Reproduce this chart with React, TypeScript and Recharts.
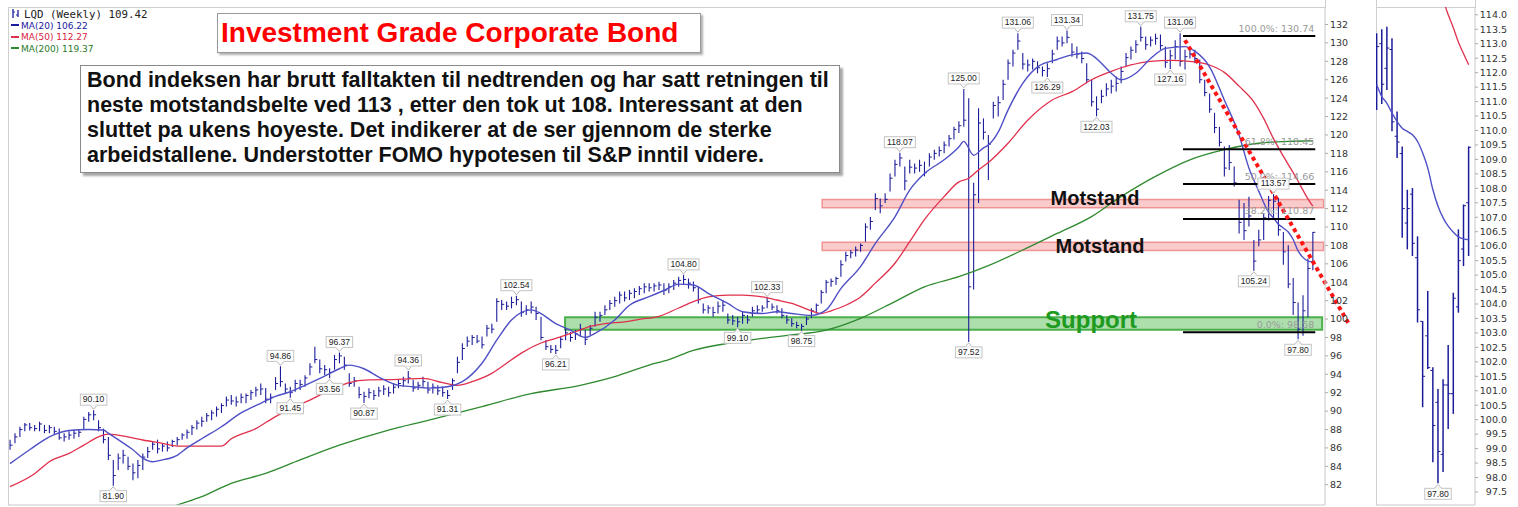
import React from 'react';
import { ComposedChart, Bar, Line, XAxis, YAxis, ReferenceArea, ReferenceLine, ReferenceDot } from 'recharts';

// ---------- main chart: 2-week OHLC bars (index k) ----------
const highs = [
  86.9, 87.6, 88.3, 88.7, 88.7, 88.5, 88.85, 88.5, 88.5, 88.3,
  88.1, 87.6, 87.8, 88.0, 88.0, 89.4, 89.9, 90.1, 89.0, 88.1,
  87.2, 84.7, 85.4, 85.8, 85.05, 84.3, 84.7, 85.4, 86.1, 86.7,
  86.9, 86.5, 86.7, 86.9, 87.2, 87.6, 88.0, 88.5, 89.0, 89.4,
  89.8, 90.1, 90.5, 90.85, 91.6, 91.75, 91.6, 91.9, 91.9, 92.3,
  92.65, 93.0, 92.5, 91.9, 93.7, 94.86, 93.0, 92.65, 93.4, 93.4,
  93.9, 95.2, 97.0, 95.6, 95.0, 94.65, 96.1, 96.37, 95.9, 94.1,
  93.7, 92.65, 92.1, 92.47, 92.3, 92.65, 92.8, 92.65, 93.0, 93.4,
  93.74, 94.36, 93.4, 93.2, 93.74, 93.2, 93.0, 92.8, 92.65, 92.3,
  93.56, 95.9, 97.36, 98.1, 98.27, 98.27, 98.1, 99.35, 99.5, 102.25,
  102.07, 101.9, 102.43, 102.54, 101.9, 101.5, 101.9, 101.35, 100.26, 97.72,
  97.18, 97.18, 98.1, 99.0, 98.6, 98.8, 99.5, 98.8, 99.35, 100.8,
  100.8, 101.5, 102.07, 102.43, 102.98, 102.98, 103.16, 103.34, 103.6, 103.88,
  103.88, 103.88, 104.06, 103.88, 103.9, 104.25, 104.6, 104.8, 104.4, 104.07,
  103.5, 101.7, 101.5, 101.35, 101.9, 102.07, 100.6, 100.44, 100.26, 100.8,
  100.44, 101.35, 101.5, 101.5, 102.33, 101.7, 101.5, 101.17, 100.44, 100.08,
  99.7, 99.5, 100.26, 101.17, 101.7, 103.16, 104.25, 104.4, 104.6, 106.4,
  107.3, 107.5, 107.87, 108.2, 110.4, 111.1, 113.67, 113.1, 113.67, 115.8,
  117.3, 118.07, 116.57, 117.3, 116.9, 117.3, 117.1, 118.0, 118.4, 118.74,
  119.3, 120.0, 120.9, 121.5, 125.0, 124.0, 114.8, 122.9, 121.8, 120.0,
  123.6, 124.2, 126.0, 128.2, 129.25, 131.06, 128.9, 128.2, 128.3, 128.0,
  127.44, 127.8, 129.25, 130.7, 130.7, 131.34, 129.97, 129.6, 129.07, 127.8,
  126.0, 124.2, 124.9, 125.63, 126.0, 126.35, 127.44, 128.9, 129.6, 130.3,
  131.75, 130.7, 130.7, 131.0, 130.9, 129.6, 129.25, 130.3, 131.06, 129.25,
  129.6, 129.25, 128.2, 126.0, 124.5, 122.4, 120.9, 118.74, 118.9, 116.57,
  112.95, 112.6, 113.3, 108.6, 109.7, 111.5, 113.36, 113.57, 113.19, 109.45,
  108.01, 104.45, 101.81, 102.58, 106.58, 109.45,
];
const lows = [
  85.8, 86.5, 87.2, 87.8, 87.9, 87.8, 87.8, 87.6, 87.6, 87.4,
  86.9, 86.7, 86.9, 87.0, 87.2, 88.0, 88.85, 89.0, 87.8, 86.5,
  84.7, 81.9, 83.6, 84.3, 83.6, 82.5, 82.7, 83.6, 84.9, 85.8,
  85.4, 85.6, 85.6, 86.1, 86.3, 86.9, 87.0, 87.4, 88.0, 88.3,
  88.85, 89.0, 89.4, 89.8, 90.5, 90.7, 90.5, 90.85, 90.85, 91.2,
  91.6, 91.75, 90.85, 90.85, 92.3, 92.65, 91.9, 91.45, 92.1, 92.3,
  92.65, 93.9, 95.2, 94.1, 93.9, 93.56, 94.5, 95.2, 94.5, 92.65,
  92.65, 91.4, 90.87, 91.4, 91.2, 91.56, 91.75, 91.56, 91.9, 92.47,
  92.65, 93.0, 92.1, 92.3, 92.65, 91.9, 91.9, 91.75, 91.56, 91.31,
  92.3, 94.1, 95.55, 97.0, 97.18, 97.36, 96.8, 98.1, 98.45, 99.7,
  100.98, 100.98, 101.16, 101.5, 100.26, 100.44, 100.6, 99.9, 97.7, 96.64,
  96.3, 96.21, 96.82, 97.7, 97.54, 97.72, 98.1, 97.18, 98.27, 99.17,
  99.7, 100.44, 100.98, 101.35, 101.7, 101.9, 102.07, 102.25, 102.6, 102.8,
  102.98, 102.98, 103.16, 102.6, 102.8, 103.16, 103.5, 103.7, 103.3, 103.0,
  101.7, 100.6, 100.6, 100.26, 100.6, 100.8, 99.5, 99.35, 99.1, 99.5,
  99.5, 100.26, 100.6, 100.8, 101.17, 100.98, 100.6, 100.08, 99.5, 99.17,
  99.0, 98.75, 99.35, 100.08, 100.6, 101.7, 102.8, 103.5, 103.7, 104.6,
  106.24, 106.6, 106.8, 107.3, 108.4, 109.7, 111.86, 111.5, 112.6, 113.85,
  115.5, 116.57, 114.0, 115.8, 115.8, 116.0, 115.5, 116.57, 117.3, 117.65,
  118.0, 118.74, 119.5, 120.2, 120.9, 97.52, 103.2, 112.6, 119.5, 115.1,
  121.8, 122.0, 123.8, 126.0, 127.44, 129.25, 127.1, 126.9, 127.1, 126.7,
  126.35, 126.29, 127.8, 129.25, 129.6, 129.97, 128.5, 128.3, 127.8, 125.63,
  123.1, 122.03, 123.45, 124.2, 124.5, 124.72, 125.63, 127.44, 128.2, 128.9,
  130.15, 129.25, 129.6, 129.8, 129.25, 127.3, 127.16, 128.2, 127.44, 127.1,
  128.3, 127.8, 125.63, 124.2, 122.4, 120.2, 118.74, 115.5, 116.2, 114.4,
  109.3, 108.6, 110.05, 105.24, 107.9, 108.6, 110.71, 110.92, 109.05, 105.89,
  103.36, 100.43, 97.8, 98.19, 100.2, 105.31,
];
const closes = [
  86.3, 87.2, 88.0, 88.5, 88.2, 88.1, 88.6, 87.9, 88.2, 87.8,
  87.1, 87.2, 87.4, 87.6, 87.7, 89.1, 89.6, 89.6, 88.2, 86.9,
  85.2, 83.0, 84.9, 85.2, 84.0, 83.3, 84.1, 85.0, 85.6, 86.4,
  85.9, 86.2, 86.0, 86.7, 86.9, 87.4, 87.7, 88.2, 88.7, 88.9,
  89.5, 89.8, 90.2, 90.6, 91.2, 91.1, 91.0, 91.5, 91.7, 92.0,
  92.3, 92.4, 91.3, 91.5, 93.0, 93.2, 92.4, 92.0, 93.0, 92.9,
  93.6, 94.8, 95.6, 94.6, 94.5, 94.2, 95.6, 96.0, 95.0, 93.0,
  93.3, 91.8, 91.6, 92.0, 91.7, 92.2, 92.4, 92.0, 92.6, 93.0,
  93.3, 93.6, 92.5, 92.8, 93.2, 92.3, 92.6, 92.2, 92.0, 91.7,
  93.3, 95.3, 96.8, 97.6, 98.0, 97.6, 97.2, 99.0, 98.9, 101.9,
  101.6, 101.4, 101.8, 102.1, 100.7, 101.0, 101.3, 100.6, 98.0, 97.0,
  96.7, 96.6, 97.8, 98.5, 98.0, 98.4, 98.9, 97.8, 99.0, 100.2,
  100.4, 101.0, 101.7, 102.0, 102.6, 102.3, 102.8, 103.0, 103.3, 103.5,
  103.4, 103.6, 103.7, 103.1, 103.5, 103.9, 104.2, 104.3, 103.9, 103.4,
  102.1, 101.0, 101.2, 100.7, 101.4, 101.5, 99.9, 99.8, 99.7, 100.4,
  99.9, 100.9, 101.0, 101.2, 101.9, 101.3, 100.9, 100.4, 99.9, 99.5,
  99.3, 99.2, 100.0, 100.9, 101.5, 102.9, 104.0, 104.1, 104.4, 105.9,
  106.9, 107.2, 107.5, 108.0, 110.0, 110.6, 113.1, 112.3, 113.0, 115.3,
  116.8, 117.5, 115.0, 116.5, 116.4, 116.7, 115.9, 117.6, 118.0, 118.3,
  118.9, 119.6, 120.6, 121.0, 121.6, 103.5, 113.5, 121.3, 120.3, 119.0,
  123.2, 123.5, 125.5, 127.8, 128.9, 130.2, 127.7, 127.6, 128.0, 127.3,
  127.0, 127.2, 128.8, 130.2, 130.0, 130.6, 129.0, 128.8, 128.3, 126.0,
  123.6, 122.8, 124.2, 125.0, 125.3, 125.6, 126.9, 128.4, 129.2, 129.8,
  130.6, 129.8, 130.3, 130.5, 129.7, 127.9, 128.6, 129.6, 128.0, 128.5,
  128.8, 128.3, 126.0, 124.6, 122.8, 120.8, 119.2, 116.4, 117.0, 114.8,
  110.5, 109.6, 111.2, 106.3, 108.6, 111.0, 112.9, 112.8, 109.7, 107.3,
  103.8, 101.8, 98.9, 100.9, 105.5, 109.42,
];

// moving averages: [bar index, value]
const ma20Main = [
  [0, 84.3], [4, 85.8], [8, 87.2], [12, 87.9], [16, 88.0], [19, 87.95], [20, 87.6], [22, 86.9], [25, 85.8],
  [27, 84.9], [29, 84.5], [31, 84.7], [34, 85.2], [36, 86.0], [39, 87.0], [43, 88.3], [47, 89.8], [51, 90.85],
  [54, 91.6], [57, 92.1], [60, 92.8], [64, 93.8], [67, 94.6], [69, 95.0], [72, 94.6], [75, 93.7], [79, 92.8],
  [82, 92.65], [85, 92.5], [89, 92.65], [92, 93.2], [96, 95.2], [99, 97.7], [102, 99.9], [106, 101.0],
  [108, 100.6], [111, 99.5], [114, 98.8], [117, 98.0], [119, 98.45], [123, 99.9], [126, 101.5], [130, 102.43],
  [133, 103.1], [136, 103.8], [139, 103.7], [142, 102.8], [146, 101.7], [149, 100.8], [153, 100.6], [156, 100.8],
  [159, 100.6], [163, 100.4], [166, 101.0], [169, 103.3], [173, 105.7], [176, 108.2], [180, 111.1], [183, 114.0],
  [186, 115.8], [190, 117.3], [193, 118.7], [194, 119.3], [196, 117.8], [198, 118.6], [199, 118.9], [201, 120.3],
  [203, 122.7], [206, 125.6], [209, 127.4], [213, 128.2], [216, 128.7], [219, 128.9], [222, 127.8], [224, 126.7],
  [226, 126.0], [229, 126.7], [232, 128.3], [235, 129.4], [239, 129.6], [241, 129.1], [244, 127.4], [247, 123.8],
  [250, 120.0], [252, 116.4], [254, 113.9], [256, 111.6], [257, 111.0], [258, 110.3], [259, 109.9], [260, 109.45],
  [261, 108.64], [262, 107.4], [263, 106.7], [264, 106.3], [265, 106.22],
];
const ma50Main = [
  [0, 81.8], [5, 83.2], [8, 84.5], [12, 85.4], [15, 86.3], [18, 87.2], [20, 87.5], [24, 87.2], [27, 86.86],
  [31, 86.5], [34, 86.2], [39, 86.2], [43, 86.2], [45, 87.0], [50, 88.1], [54, 89.4], [58, 90.5], [61, 91.2],
  [64, 92.0], [67, 92.7], [69, 93.1], [73, 93.4], [79, 93.45], [84, 93.56], [88, 93.1], [91, 92.8], [94, 93.2],
  [98, 94.1], [101, 95.2], [104, 96.3], [108, 97.4], [111, 97.9], [115, 98.6], [118, 99.2], [121, 99.5],
  [125, 99.7], [128, 99.97], [132, 100.3], [136, 101.2], [139, 101.9], [142, 102.4], [146, 102.6], [149, 102.6],
  [153, 102.4], [156, 102.07], [159, 101.7], [163, 100.9], [165, 100.6], [167, 100.9], [170, 101.5], [173, 102.4],
  [176, 103.9], [180, 106.06], [183, 108.4], [186, 110.8], [190, 113.3], [193, 114.9], [195, 115.3], [197, 116.2],
  [199, 117.0], [203, 119.1], [207, 121.6], [212, 123.8], [216, 124.7], [220, 126.0], [224, 126.9], [228, 127.6],
  [232, 128.0], [236, 128.1], [240, 128.0], [244, 127.6], [247, 126.8], [250, 125.3], [253, 123.6], [255, 121.8],
  [257, 119.6], [259, 117.7], [261, 115.9], [262, 115.0], [263, 114.0], [264, 113.05], [265, 112.27],
];
const ma200Main = [
  [30, 79.0], [34, 79.8], [39, 80.7], [45, 82.15], [52, 83.24], [59, 84.7], [67, 86.3], [77, 87.94], [85, 89.0],
  [96, 90.5], [106, 91.9], [116, 92.8], [123, 93.74], [130, 95.0], [134, 95.6], [139, 96.6], [146, 97.36],
  [153, 97.9], [159, 98.27], [166, 98.8], [173, 100.08], [180, 101.9], [186, 103.5], [193, 104.6], [199, 105.8],
  [206, 107.5], [213, 109.3], [220, 111.13], [226, 113.3], [233, 115.5], [240, 117.3], [247, 118.4], [254, 119.1],
  [260, 119.3], [265, 119.37],
];

// high/low callouts: bar index and whether the tag sits above (high) or below (low)
const tagBars = [17, 21, 55, 57, 65, 67, 72, 81, 89, 103, 111, 137, 148, 154, 161, 181, 194, 195, 205, 211, 215, 221, 230, 236, 238, 253, 257, 262];
const tagAbove = [1, 0, 1, 0, 0, 1, 0, 1, 0, 1, 0, 1, 0, 1, 0, 1, 1, 0, 1, 0, 1, 0, 1, 0, 1, 0, 1, 0];

const mainYTicks = [82, 84, 86, 88, 90, 92, 94, 96, 98, 100, 102, 104, 106, 108, 110, 112, 114, 116, 118, 120, 122, 124, 126, 128, 130, 132];

// Fibonacci retracement
const fibLabels = ['100.0%', '61.8%', '50.0%', '38.2%', '0.0%'];
const fibValues = [130.74, 118.45, 114.66, 110.87, 98.58];
const fibRange = [238.6, 265.5];
// trend line (dotted red)
const trendFrom = [239, 130.3];
const trendTo = [272.2, 99.6];
// zones
const resistanceZones = [[112.1, 113.0], [107.45, 108.35]];
const resistanceRange = [165.2, 267.2];
const supportZone = [98.85, 100.2];
const supportRange = [112.9, 266.9];

// ---------- right panel: last 19 weekly bars ----------
const zoomOpens = [112.3, 113.0, 112.15, 112.8, 109.8, 109.2, 106.8, 107.8, 105.6, 103.4, 102.9, 101.7, 100.6, 98.8, 101.2, 100.9, 103.9, 105.9, 107.5];
const zoomHighs = [113.36, 113.5, 113.59, 113.19, 110.66, 109.45, 107.95, 108.01, 106.34, 103.41, 104.45, 101.81, 101.06, 101.4, 102.58, 104.39, 106.58, 107.44, 109.45];
const zoomLows = [110.71, 110.92, 111.4, 109.97, 109.05, 106.29, 105.89, 105.66, 103.36, 100.43, 101.75, 98.53, 97.8, 98.19, 99.68, 100.2, 103.7, 105.31, 105.66];
const zoomCloses = [112.9, 111.6, 112.85, 110.3, 109.6, 107.3, 107.3, 106.1, 103.8, 101.5, 101.8, 99.8, 98.9, 101.2, 100.9, 104.2, 105.5, 107.4, 109.42];
const zoomMa20 = [111.58, 111.17, 110.94, 110.6, 110.31, 110.08, 109.97, 109.85, 109.62, 109.22, 108.7, 107.95, 107.38, 106.98, 106.69, 106.48, 106.32, 106.25, 106.22];
const zoomMa50 = [[11, 115.6], [12, 115.0], [13, 114.5], [14, 114.0], [15, 113.55], [16, 113.05], [17, 112.65], [18, 112.27]];
const zoomYTicks = [97.5, 98, 98.5, 99, 99.5, 100, 100.5, 101, 101.5, 102, 102.5, 103, 103.5, 104, 104.5, 105, 105.5, 106, 106.5, 107, 107.5, 108, 108.5, 109, 109.5, 110, 110.5, 111, 111.5, 112, 112.5, 113, 113.5, 114];
const zoomXTicks = [1.8, 3.8, 5.8, 7.8, 9.8, 11.8, 13.8, 15.8, 17.8];
const zoomTagBar = 12;

// ---------- derived tables ----------
const mainData = highs.map((h, i) => ({ k: i, range: [lows[i], h], hi: h, lo: lows[i], cl: closes[i] }));
const ma20Data = ma20Main.map(([k, v]) => ({ k, v }));
const ma50Data = ma50Main.map(([k, v]) => ({ k, v }));
const ma200Data = ma200Main.map(([k, v]) => ({ k, v }));
const zoomData = zoomHighs.map((h, i) => ({ k: i, range: [zoomLows[i], h], hi: h, lo: zoomLows[i], cl: zoomCloses[i], op: zoomOpens[i] }));
const zoomMa20Data = zoomMa20.map((v, k) => ({ k, v }));
const zoomMa50Data = zoomMa50.map(([k, v]) => ({ k, v }));
const mainXTicks = Array.from({ length: 42 }, (_, i) => 2.24 + i * 6.45);

const BAR_COLOR = '#1c1c9a';
const MA20_COLOR = '#4f4fc6';
const MA50_COLOR = '#e0304c';
const MA200_COLOR = '#2f8a2f';
const FONT = '"DejaVu Sans", Verdana, sans-serif';

function ohlc(p: any, withOpen: boolean, sw: number) {
  const { x, y, width, height, payload } = p;
  if (x == null || y == null) return <g />;
  const top = Math.min(y, y + height);
  const h = Math.abs(height);
  const cx = x + width / 2;
  const span = payload.hi - payload.lo;
  const at = (v: number) => top + (span > 0 ? ((payload.hi - v) / span) * h : 0);
  const yc = at(payload.cl);
  return (
    <g>
      <line x1={cx} x2={cx} y1={top} y2={top + h} stroke={BAR_COLOR} strokeWidth={sw} />
      <line x1={cx} x2={cx + 2.5} y1={yc} y2={yc} stroke={BAR_COLOR} strokeWidth={1} />
      {withOpen && payload.op != null ? (
        <line x1={cx - 2.5} x2={cx} y1={at(payload.op)} y2={at(payload.op)} stroke={BAR_COLOR} strokeWidth={1} />
      ) : null}
    </g>
  );
}

function priceTag(cx: number, cy: number, text: string, above: boolean) {
  const w = text.length * 4.5 + 4;
  const h = 11;
  const gap = 5;
  const by = above ? cy - gap - h : cy + gap;
  const baseY = above ? by + h : by;
  const tipY = above ? cy - 1 : cy + 1;
  return (
    <g>
      <path d={`M${cx - 3.5},${baseY} L${cx},${tipY} L${cx + 3.5},${baseY} Z`} fill="#fff" stroke="#b4b4b4" strokeWidth={1} />
      <rect x={cx - w / 2} y={by} width={w} height={h} fill="#fff" stroke="#c4c4c4" strokeWidth={1} />
      <line x1={cx - 3} x2={cx + 3} y1={baseY} y2={baseY} stroke="#fff" strokeWidth={1.2} />
      <text x={cx} y={by + h / 2 + 0.5} dominantBaseline="middle" textAnchor="middle" fontSize={8.6} fontFamily='"Liberation Sans", Arial, sans-serif' fill="#222">
        {text}
      </text>
    </g>
  );
}

const ZoomTick = (p: any) => (
  <text x={p.x + 27} y={p.y} dy="0.35em" textAnchor="end" fontSize={9.5} fontFamily={FONT} fill="#333">
    {Number(p.payload.value).toFixed(1)}
  </text>
);

const LegendDash = ({ color }: { color: string }) => (
  <span style={{ display: 'inline-block', width: 8, height: 2, background: color, verticalAlign: 'middle', marginRight: 2, marginTop: -2 }} />
);

export default function App() {
  return (
    <div style={{ position: 'absolute', left: 0, top: 0, width: 1518, height: 507, background: '#fff', overflow: 'hidden' }}>
      {/* frames */}
      <div style={{ position: 'absolute', left: 8, top: 7, width: 1317, height: 498, borderTop: '1px solid #cfcfcf', borderLeft: '1px solid #cfcfcf', boxSizing: 'border-box' }} />
      <div style={{ position: 'absolute', left: 1325, top: 0, width: 1, height: 8, background: '#cfcfcf' }} />
      <div style={{ position: 'absolute', left: 1376, top: 0, width: 1, height: 505, background: '#cfcfcf' }} />
      <div style={{ position: 'absolute', left: 1475, top: 0, width: 1, height: 8, background: '#cfcfcf' }} />
      <div style={{ position: 'absolute', left: 1376, top: 7, width: 99, height: 1, background: '#cfcfcf' }} />

      {/* main chart */}
      <div style={{ position: 'absolute', left: 0, top: 0 }}>
        <ComposedChart width={1370} height={507} data={mainData} margin={{ top: 7, right: 0, bottom: 0, left: 8 }}>
          <XAxis dataKey="k" type="number" domain={[-0.41, 267.48]} allowDataOverflow ticks={mainXTicks} tick={false} height={2} tickSize={2} axisLine={{ stroke: '#c8c8c8' }} tickLine={{ stroke: '#999' }} />
          <YAxis orientation="right" type="number" domain={[79.8, 133.9]} allowDataOverflow ticks={mainYTicks} interval={0} width={45} tickSize={3} tickMargin={2} axisLine={{ stroke: '#c8c8c8' }} tickLine={{ stroke: '#aaa' }} tick={{ fontSize: 9.5, fill: '#333', fontFamily: FONT }} />
          <ReferenceArea x1={supportRange[0]} x2={supportRange[1]} y1={supportZone[0]} y2={supportZone[1]} fill="#5cbf5c" fillOpacity={0.5} stroke="#3da83d" strokeWidth={2} strokeOpacity={0.9} ifOverflow="visible" />
          <Bar dataKey="range" barSize={3} isAnimationActive={false} shape={(p: any) => ohlc(p, false, 1.1)} />
          <ReferenceArea x1={resistanceRange[0]} x2={resistanceRange[1]} y1={resistanceZones[0][0]} y2={resistanceZones[0][1]} fill="#f28c8c" fillOpacity={0.45} stroke="#ec7f7f" strokeWidth={1.5} strokeOpacity={0.8} ifOverflow="visible" />
          <ReferenceArea x1={resistanceRange[0]} x2={resistanceRange[1]} y1={resistanceZones[1][0]} y2={resistanceZones[1][1]} fill="#f28c8c" fillOpacity={0.45} stroke="#ec7f7f" strokeWidth={1.5} strokeOpacity={0.8} ifOverflow="visible" />
          <Line data={ma200Data} dataKey="v" type="monotone" stroke={MA200_COLOR} strokeWidth={1.3} dot={false} isAnimationActive={false} />
          <Line data={ma50Data} dataKey="v" type="monotone" stroke={MA50_COLOR} strokeWidth={1.3} dot={false} isAnimationActive={false} />
          <Line data={ma20Data} dataKey="v" type="monotone" stroke={MA20_COLOR} strokeWidth={1.4} dot={false} isAnimationActive={false} />
          {fibValues.map((v, i) => (
            <ReferenceLine key={'fl' + i} segment={[{ x: fibRange[0], y: v }, { x: fibRange[1], y: v }]} stroke="#000" strokeWidth={2} ifOverflow="visible" />
          ))}
          {fibValues.map((v, i) => (
            <ReferenceDot key={'ft' + i} x={fibRange[1]} y={v} r={0} ifOverflow="visible"
              shape={(p: any) => (
                <text x={p.cx - 1} y={p.cy - 7} dominantBaseline="middle" textAnchor="end" fontSize={9.5} fontFamily={FONT} fill="#9a9a9a">
                  {`${fibLabels[i]}: ${v.toFixed(2)}`}
                </text>
              )} />
          ))}
          <ReferenceLine segment={[{ x: trendFrom[0], y: trendFrom[1] }, { x: trendTo[0], y: trendTo[1] }]} stroke="#ff1414" strokeWidth={4} strokeDasharray="4 3.5" ifOverflow="visible" />
          <ReferenceDot x={220.7} y={112.95} r={0} ifOverflow="visible"
            shape={(p: any) => (
              <text x={p.cx} y={p.cy} dominantBaseline="middle" textAnchor="middle" fontSize={20} fontWeight="bold" fontFamily='"Liberation Sans", Arial, sans-serif' fill="#111">Motstand</text>
            )} />
          <ReferenceDot x={221.7} y={107.7} r={0} ifOverflow="visible"
            shape={(p: any) => (
              <text x={p.cx} y={p.cy} dominantBaseline="middle" textAnchor="middle" fontSize={20} fontWeight="bold" fontFamily='"Liberation Sans", Arial, sans-serif' fill="#111">Motstand</text>
            )} />
          <ReferenceDot x={219.9} y={99.7} r={0} ifOverflow="visible"
            shape={(p: any) => (
              <text x={p.cx} y={p.cy} dominantBaseline="middle" textAnchor="middle" fontSize={24} fontWeight="bold" fontFamily='"Liberation Sans", Arial, sans-serif' fill="#1e9a1e">Support</text>
            )} />
          {tagBars.map((k, i) => {
            const above = tagAbove[i] === 1;
            const v = above ? highs[k] : lows[k];
            return (
              <ReferenceDot key={'tag' + i} x={k} y={v} r={0} ifOverflow="visible"
                shape={(p: any) => priceTag(p.cx, p.cy, v.toFixed(2), above)} />
            );
          })}
        </ComposedChart>
      </div>

      {/* right zoom panel */}
      <div style={{ position: 'absolute', left: 1370, top: 0 }}>
        <ComposedChart width={148} height={507} data={zoomData} margin={{ top: 7, right: 0, bottom: 0, left: 6 }}>
          <XAxis dataKey="k" type="number" domain={[-0.14, 19.24]} allowDataOverflow ticks={zoomXTicks} tick={false} height={2} tickSize={2} axisLine={{ stroke: '#c8c8c8' }} tickLine={{ stroke: '#999' }} />
          <YAxis orientation="right" type="number" domain={[97.05, 114.27]} allowDataOverflow ticks={zoomYTicks} interval={0} width={43} tickSize={3} tickMargin={2} axisLine={{ stroke: '#c8c8c8' }} tickLine={{ stroke: '#aaa' }} tick={<ZoomTick />} />
          <Bar dataKey="range" barSize={3} isAnimationActive={false} shape={(p: any) => ohlc(p, true, 1.5)} />
          <Line data={zoomMa50Data} dataKey="v" type="monotone" stroke={MA50_COLOR} strokeWidth={1.3} dot={false} isAnimationActive={false} />
          <Line data={zoomMa20Data} dataKey="v" type="monotone" stroke={MA20_COLOR} strokeWidth={1.4} dot={false} isAnimationActive={false} />
          <ReferenceDot x={zoomTagBar} y={zoomLows[zoomTagBar]} r={0} ifOverflow="visible"
            shape={(p: any) => priceTag(p.cx, p.cy, zoomLows[zoomTagBar].toFixed(2), false)} />
        </ComposedChart>
      </div>

      {/* legend */}
      <div style={{ position: 'absolute', left: 11, top: 8, fontFamily: '"DejaVu Sans Mono", monospace', fontSize: 10.8, color: '#222', lineHeight: '13px', whiteSpace: 'nowrap' }}>
        <svg width={10} height={9} style={{ verticalAlign: 'middle', marginRight: 3, marginTop: -3 }}>
          <line x1={2} x2={2} y1={0} y2={9} stroke="#2a2aa8" strokeWidth={1.4} />
          <line x1={2} x2={4} y1={3} y2={3} stroke="#2a2aa8" />
          <line x1={7} x2={7} y1={1} y2={8} stroke="#2a2aa8" strokeWidth={1.4} />
          <line x1={5} x2={7} y1={6} y2={6} stroke="#2a2aa8" />
        </svg>
        LQD (Weekly) 109.42
      </div>
      <div style={{ position: 'absolute', left: 11, top: 19.5, fontFamily: FONT, fontSize: 9, color: '#1a1a9c', lineHeight: '12px', whiteSpace: 'nowrap' }}>
        <LegendDash color="#1a1a9c" />MA(20) 106.22
      </div>
      <div style={{ position: 'absolute', left: 11, top: 31, fontFamily: FONT, fontSize: 9, color: '#d8243f', lineHeight: '12px', whiteSpace: 'nowrap' }}>
        <LegendDash color="#e0304c" />MA(50) 112.27
      </div>
      <div style={{ position: 'absolute', left: 11, top: 42.5, fontFamily: FONT, fontSize: 9, color: '#2a7a2a', lineHeight: '12px', whiteSpace: 'nowrap' }}>
        <LegendDash color="#2f8a2f" />MA(200) 119.37
      </div>

      {/* title box */}
      <div style={{ position: 'absolute', left: 217, top: 13, width: 484, height: 40, boxSizing: 'border-box', border: '1px solid #9a9a9a', background: '#fff', boxShadow: '2px 2px 2px #b0b0b0', fontFamily: '"Liberation Sans", Arial, sans-serif', fontWeight: 'bold', fontSize: 28, color: '#ff0000', lineHeight: '38px', paddingLeft: 3, whiteSpace: 'nowrap' }}>
        Investment Grade Corporate Bond
      </div>

      {/* comment box */}
      <div style={{ position: 'absolute', left: 80, top: 65, width: 760, height: 108, boxSizing: 'border-box', border: '1px solid #8a8a8a', background: '#fff', boxShadow: '3px 3px 2px #a8a8a8', fontFamily: '"Liberation Sans", Arial, sans-serif', fontWeight: 'bold', fontSize: 21.5, color: '#111', lineHeight: '25px', padding: '2px 0 0 6px', whiteSpace: 'nowrap' }}>
        <div>Bond indeksen har brutt falltakten til nedtrenden og har satt retningen til</div>
        <div>neste motstandsbelte ved 113 , etter den tok ut 108. Interessant at den</div>
        <div>sluttet pa ukens hoyeste. Det indikerer at de ser gjennom de sterke</div>
        <div>arbeidstallene. Understotter FOMO hypotesen til S&amp;P inntil videre.</div>
      </div>
    </div>
  );
}
